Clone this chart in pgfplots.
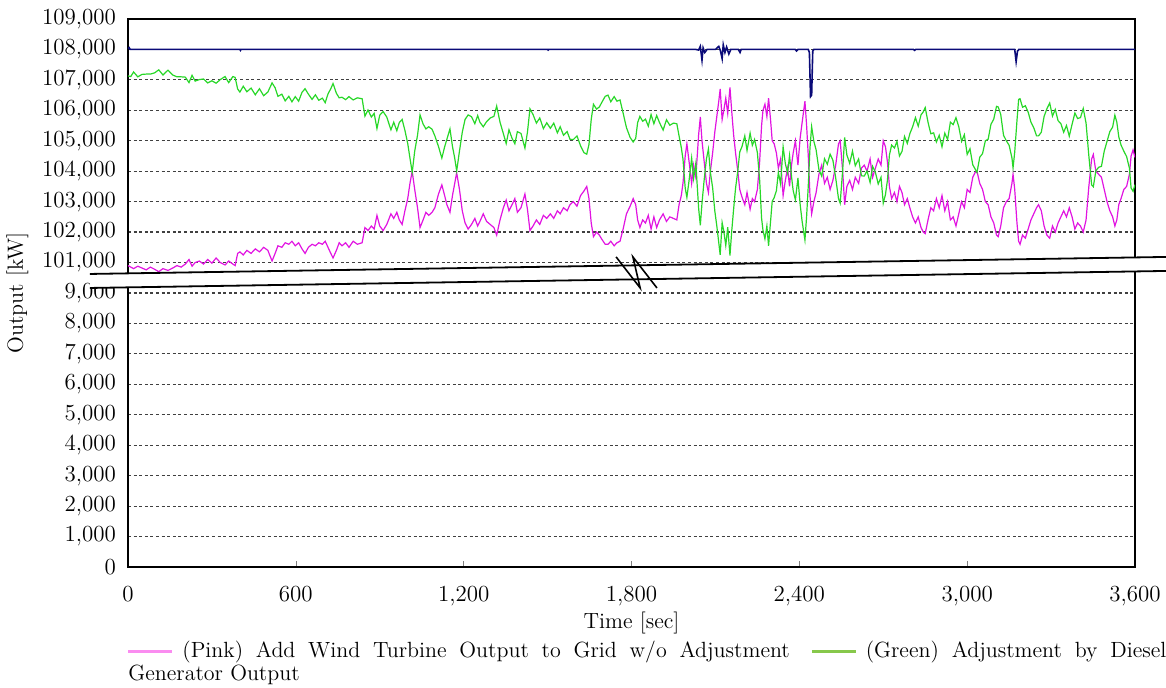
\documentclass[border=0pt]{standalone}
\usepackage{pgfplots}
\usepackage{pgfplotstable}
\pgfplotsset{compat=1.18}
\usetikzlibrary{calc}
\definecolor{pinkline}{RGB}{225,20,225}
\definecolor{greenline}{RGB}{40,215,40}
\definecolor{navyline}{RGB}{10,10,120}
\definecolor{pinkleg}{RGB}{250,140,240}
\definecolor{greenleg}{RGB}{135,200,75}

\pgfplotstableread{
t p g
0 100900 107130
10 100850 107110
20 100800 107260
35 100880 107100
50 100820 107180
65 100760 107190
80 100850 107190
95 100780 107230
110 100700 107330
125 100800 107160
143 100740 107320
160 100820 107160
175 100900 107100
190 100850 107100
205 100950 107090
218 101100 106910
229 100880 107150
240 101000 106960
255 101050 107010
270 100950 107030
285 101100 106900
300 100980 106970
315 101150 106890
330 101000 107010
347 100920 107110
360 101050 106910
375 100950 107110
383 100900 107080
392 101300 106700
400 101350 106600
412 101250 106790
425 101400 106610
440 101300 106730
455 101450 106510
470 101350 106710
485 101500 106480
500 101400 106600
515 101050 106900
526 101300 106740
536 101550 106460
550 101500 106530
562 101650 106310
575 101600 106460
586 101700 106280
598 101550 106450
610 101650 106300
622 101450 106590
633 101300 106710
645 101500 106530
658 101600 106360
670 101550 106510
682 101650 106330
695 101600 106400
705 101700 106250
715 101500 106540
725 101300 106710
733 101150 106880
745 101400 106560
755 101650 106410
765 101550 106430
778 101650 106350
790 101500 106450
805 101700 106340
820 101600 106410
837 101650 106380
847 102150 105810
858 102050 106010
870 102200 105780
880 102100 105900
890 102550 105400
900 102200 105840
912 102050 105960
925 102250 105780
940 102600 105360
950 102450 105610
961 102650 105330
970 102400 105600
980 102250 105700
990 102700 105340
1000 103100 104910
1008 103600 104430
1016 104000 103960
1025 103400 104660
1035 102800 105180
1044 102150 105850
1055 102400 105550
1065 102650 105390
1075 102550 105460
1087 102650 105380
1097 102800 105160
1110 103250 104810
1122 103550 104430
1132 103200 104800
1140 102900 105050
1151 102650 105390
1160 103200 104810
1168 103600 104430
1175 103950 104010
1185 103400 104660
1195 102700 105280
1205 102300 105700
1216 102100 105850
1228 102250 105790
1240 102450 105560
1250 102200 105830
1258 102350 105610
1270 102600 105460
1282 102350 105630
1295 102250 105750
1308 102150 105800
1318 101900 106140
1330 102400 105610
1342 102800 105230
1352 103050 104910
1362 102700 105360
1373 102900 105080
1383 103100 104900
1392 102650 105300
1405 102800 105240
1419 103250 104760
1428 102750 105280
1437 102050 106050
1448 102200 105860
1460 102400 105580
1472 102250 105750
1485 102550 105400
1497 102450 105590
1510 102600 105410
1522 102450 105580
1535 102700 105260
1545 102600 105460
1557 102800 105180
1570 102700 105300
1580 102900 105050
1592 103000 105040
1605 102850 105160
1618 103200 104830
1630 103350 104610
1640 103500 104560
1648 103100 104880
1656 102300 105700
1664 101850 106200
1675 102000 106040
1685 101900 106110
1695 101750 106280
1706 101600 106460
1716 101600 106500
1726 101700 106280
1738 101550 106450
1748 101650 106300
1759 101700 106340
1770 102100 105910
1782 102600 105430
1795 102850 105110
1806 103100 104960
1815 102900 105080
1822 102400 105600
1830 102150 105800
1840 102400 105640
1850 102300 105710
1860 102550 105480
1870 102100 105860
1880 102500 105560
1890 102150 105830
1900 102400 105600
1913 102600 105350
1925 102350 105690
1937 102500 105510
1950 102450 105580
1962 102400 105560
1970 102900 105160
1978 103200 104780
1984 103600 104400
1992 104500 103450
1998 104900 103140
2006 104300 103710
2015 103600 104430
2022 104200 103760
2030 103800 104260
2040 105200 102780
2046 105780 102220
2052 105000 102950
2060 104300 103740
2068 103600 104410
2075 103300 104730
2082 104000 103960
2090 104600 103460
2098 105300 102680
2105 105800 102200
2112 106300 101650
2117 106700 101250
2124 105700 102310
2130 106000 102030
2137 106400 101560
2144 105900 102160
2152 106750 101230
2158 106000 102000
2165 105200 102750
2172 104600 103440
2180 104000 104010
2187 103400 104630
2195 103150 104810
2205 102900 105160
2213 103300 104680
2224 102750 105250
2232 103100 104850
2240 103000 105040
2250 103400 104610
2258 104300 103730
2265 105500 102460
2270 106000 102060
2277 106200 101780
2284 105800 102200
2290 106400 101550
2297 105700 102340
2303 105000 103010
2310 104900 103130
2318 104600 103360
2325 104100 103960
2333 104400 103580
2342 103200 104800
2350 103700 104250
2358 104100 103940
2365 103500 104510
2372 104200 103830
2378 104600 103360
2386 105000 103060
2395 104200 103780
2403 105100 102900
2410 105600 102350
2420 106300 101740
2426 105500 102510
2432 104500 103530
2438 103200 104760
2444 102600 105460
2452 103000 104980
2460 103300 104700
2470 103900 104050
2480 104200 103840
2490 103600 104410
2500 103800 104230
2510 103400 104560
2520 103700 104360
2530 104200 103780
2540 104900 103100
2546 105000 102950
2555 104000 104040
2562 102900 105110
2570 103500 104530
2580 103700 104260
2590 103400 104660
2600 103800 104180
2612 103600 104400
2622 104100 103850
2632 104200 103840
2642 104000 104010
2653 104400 103630
2662 103800 104160
2672 104100 103960
2682 104400 103580
2692 104200 103800
2700 105000 102950
2708 104800 103240
2715 104300 103710
2722 103500 104530
2730 103100 104860
2740 103300 104760
2749 103000 104980
2758 103500 104500
2767 103300 104650
2776 102900 105140
2786 103100 104910
2795 102800 105230
2805 102500 105460
2815 102300 105760
2825 102500 105480
2835 102150 105850
2843 102000 105950
2850 101950 106090
2860 102400 105610
2870 102800 105230
2880 102700 105260
2890 103100 104960
2900 102800 105180
2910 103200 104800
2920 102700 105250
2930 103000 105040
2940 102400 105610
2950 102500 105530
2960 102200 105760
2970 102600 105460
2980 103000 104980
2990 102800 105200
3000 103400 104550
3010 103300 104740
3020 103800 104210
3028 103950 104080
3035 104000 103960
3045 103600 104460
3055 103400 104580
3065 103000 105000
3075 102900 105050
3085 102500 105540
3095 102300 105710
3105 101900 106130
3111 101850 106110
3120 102200 105860
3130 102800 105180
3140 103000 105000
3150 103100 104850
3160 103600 104440
3164 103900 104110
3170 103400 104630
3178 102300 105660
3184 101700 106360
3189 101600 106380
3198 101900 106100
3208 101800 106150
3218 102100 105940
3228 102400 105610
3238 102600 105430
3248 102800 105160
3255 102900 105160
3265 102700 105280
3275 102200 105800
3285 101900 106050
3295 101800 106240
3305 102200 105810
3315 102000 106030
3325 102300 105660
3335 102500 105560
3345 102700 105280
3355 102500 105500
3365 102800 105150
3375 102500 105540
3385 102100 105910
3395 102300 105730
3405 102200 105760
3415 102000 106060
3425 102400 105580
3435 103500 104500
3445 104400 103550
3451 104550 103490
3460 104000 104010
3470 103900 104130
3480 103800 104160
3490 103400 104660
3500 103000 104980
3510 102700 105300
3520 102500 105450
3528 102200 105840
3535 102400 105610
3542 102900 105130
3550 103100 104860
3560 103400 104660
3570 103500 104480
3580 103900 104100
3586 104500 103450
3593 104700 103340
3600 104450 103560
}\wind

\pgfplotstableread{
t n
0 108020
4 108060
8 108000
400 108000
402 107970
404 108000
1500 108000
1502 107980
1504 108000
2030 108000
2040 107980
2046 108100
2052 107650
2056 108050
2062 107900
2070 108000
2100 108000
2112 108100
2118 107950
2124 107700
2128 108150
2134 107900
2140 108080
2148 107850
2155 108000
2182 108000
2188 107900
2192 108000
2385 108000
2390 107950
2395 108000
2432 108000
2436 107900
2440 106450
2444 106500
2448 107950
2452 108000
2808 108000
2812 107970
2816 108000
3170 108000
3175 107600
3180 107950
3185 108000
3600 108000
}\navy

\begin{document}
\begin{tikzpicture}
\begin{axis}[name=ax, scale only axis, width=503.5pt, height=274pt,
  xmin=0, xmax=3600, ymin=0, ymax=18000,
  scaled x ticks=false, scaled y ticks=false,
  xtick={0,600,...,3600},
  xticklabels={0,600,{1,200},{1,800},{2,400},{3,000},{3,600}},
  ytick={0,1000,...,18000},
  yticklabels={0,{1,000},{2,000},{3,000},{4,000},{5,000},{6,000},{7,000},{8,000},{9,000},{101,000},{102,000},{103,000},{104,000},{105,000},{106,000},{107,000},{108,000},{109,000}},
  ymajorgrids,
  grid style={black!75, line width=0.6pt, dash pattern=on 1.5pt off 1.3pt},
  tick align=inside, xtick pos=bottom, ytick pos=left,
  major tick length=3pt,
  ytick style={draw=none},
  axis line style={line width=1pt},
  tick label style={font=\fontsize{11.5}{13}\selectfont},
  xticklabel style={yshift=-6pt},
  yticklabel style={xshift=-2.5pt},
  label style={font=\fontsize{11}{13}\selectfont},
  xlabel={Time [sec]},
  ylabel={Output [kW]},
  xlabel style={yshift=4pt},
]
\addplot[pinkline, line width=0.6pt] table[x=t, y expr=\thisrow{p}-91000] {\wind};
\addplot[greenline, line width=0.6pt] table[x=t, y expr=\thisrow{g}-91000] {\wind};
\addplot[navyline, line width=0.8pt] table[x=t, y expr=\thisrow{n}-91000] {\navy};
\coordinate (ul) at (axis cs:-135.9,9625);
\coordinate (ur) at (axis cs:3711,10184);
\coordinate (ll) at (axis cs:-135.9,9165);
\coordinate (lr) at (axis cs:3711,9724);
\coordinate (z1) at (axis cs:1745,10184);
\coordinate (z2) at (axis cs:1831,9165);
\coordinate (z3) at (axis cs:1805,10184);
\coordinate (z4) at (axis cs:1891,9165);
\end{axis}
\fill[white] (ul) -- (ur) -- (lr) -- (ll) -- cycle;
\draw[line width=0.9pt] (ul) -- (ur);
\draw[line width=0.9pt] (ll) -- (lr);
\draw[line width=0.8pt] (z1) -- (z2) -- (z3) -- (z4);
\node[anchor=north west, inner sep=0pt, text width=519pt, align=justify,
      font=\fontsize{11}{11.5}\selectfont] at ($(ax.south west)+(0,-37pt)$)
  {\noindent{\color{pinkleg}\rule[0.55ex]{22pt}{1.3pt}}\hspace{5pt}(Pink) Add Wind Turbine Output to Grid w/o Adjustment\hspace{11pt}{\color{greenleg}\rule[0.55ex]{22pt}{1.3pt}}\hspace{5pt}(Green) Adjustment by Diesel\linebreak Generator Output};
\pgfresetboundingbox
\path[use as bounding box] ($(ax.south west)+(-64pt,-60.5pt)$) rectangle ($(ax.north east)+(15.5pt,9.5pt)$);
\end{tikzpicture}
\end{document}
